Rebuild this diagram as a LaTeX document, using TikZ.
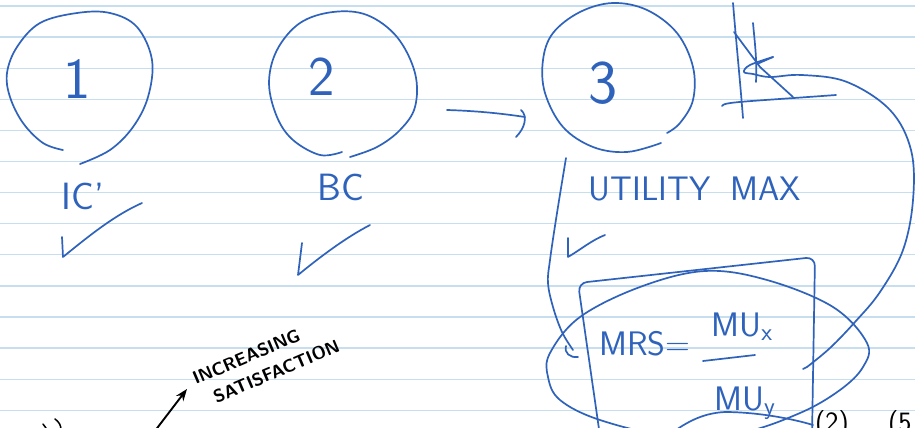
\documentclass[tikz,border=0pt]{standalone}
\usetikzlibrary{arrows.meta}
\definecolor{pen}{RGB}{47,99,187}
\definecolor{paperrule}{RGB}{198,222,238}
\begin{document}
\begin{tikzpicture}[x=1pt,y=-1pt,
  stroke/.style={draw=pen,line width=1.7pt,line cap=round,line join=round},
  ink/.style={draw=black,line width=1.9pt,line cap=round,line join=round},
  handtext/.style={text=pen,inner sep=0pt},
  blacktext/.style={text=black,inner sep=0pt}]
\useasboundingbox (0,0) rectangle (915,428);
\clip (0,0) rectangle (915,428);
\fill[white] (0,0) rectangle (915,428);
% ruled paper
\foreach \k in {0,...,13} \draw[paperrule,line width=1.3pt] (0,{6+31.1*\k}) -- (915,{6+31.1*\k});

% circle 1
\draw[stroke] plot[smooth,tension=0.6] coordinates {(63,150) (43,143) (23,123) (10,97) (7,73) (17,47) (40,23) (77,13) (110,13) (137,27) (152,60) (148,97) (133,127) (110,150) (80,164)};
\node[handtext,font=\sffamily\fontsize{58}{58}\selectfont] (one) at (77,79) {1};
% circle 2
\draw[stroke] plot[smooth,tension=0.6] coordinates {(342,152) (320,155) (293,140) (277,117) (269,83) (277,50) (300,23) (333,12) (367,15) (397,37) (415,73) (415,107) (400,130) (377,147) (350,157)};
\node[handtext,font=\sffamily\fontsize{56}{56}\selectfont] (two) at (322,77) {2};
% circle 3
\draw[stroke] plot[smooth,tension=0.6] coordinates {(661,143) (627,152) (593,147) (563,127) (545,93) (543,60) (553,33) (580,12) (613,3) (647,10) (677,33) (693,67) (693,100) (680,123) (667,133)};
\node[handtext,font=\sffamily\fontsize{62}{62}\selectfont] (three) at (603,83) {3};

% arrow from 2 to 3
\coordinate (a2s) at (447,110);
\coordinate (a2e) at (525,117);
\draw[stroke] (a2s) .. controls (480,111) and (505,114) .. (a2e);
\draw[stroke] (521,110) .. controls (528,116) and (525,128) .. (516,137);

% labels
\node[handtext,font=\sffamily\fontsize{38}{38}\selectfont] (ic) at (83,196) {IC'};
\node[handtext,font=\sffamily\fontsize{38}{38}\selectfont] (bc) at (341,187) {BC};
\node[handtext,font=\sffamily\fontsize{34}{34}\selectfont] (um) at (695,189) {UTILITY\hspace{20pt}MAX};

% check marks
\draw[stroke] (62,237) -- (63,257) .. controls (90,235) and (115,215) .. (142,203);
\draw[stroke] (302,243) -- (298,275) .. controls (320,257) and (345,238) .. (370,225);
\draw[stroke] (568,238) -- (568,257) .. controls (580,250) and (592,240) .. (605,235);

% small graph
\draw[stroke] (733,3) .. controls (736,40) and (740,80) .. (743,118);
\draw[stroke] (722,106) .. controls (724,102) and (740,102) .. (836,95);
\draw[stroke] (734,32) -- (760,67) -- (793,97);
\draw[stroke] (753,23) .. controls (755,45) and (757,60) .. (756,82);
\draw[stroke] (773,57) -- (757,64);
% indifference curve / arrow to MRS box
\draw[stroke] plot[smooth,tension=0.6] coordinates {(773,57) (750,65) (744,72) (753,74) (770,77) (802,75) (847,82) (890,110) (911,150) (913,200) (903,250) (880,292) (855,322) (830,348) (807,367)};
\draw[stroke] (807,367) -- (803,369);

% arrow from circle 3 down to MRS
\draw[stroke] plot[smooth,tension=0.6] coordinates {(566,158) (557,213) (550,260) (548,283) (553,307) (562,332) (573,350)};
\draw[stroke] (566,346) .. controls (564,353) and (570,358) .. (578,357);

% box
\draw[stroke,rounded corners=9pt] (600,436) -- (578,283) -- (815,257) -- (812,436);
% ellipse
\draw[stroke] plot[smooth cycle,tension=0.6] coordinates {(705,271) (767,280) (833,307) (867,343) (863,367) (840,390) (800,413) (740,433) (670,436) (600,420) (560,400) (548,377) (550,353) (580,317) (640,287)};
\draw[stroke] (673,432) .. controls (690,420) and (705,413) .. (725,412) .. controls (755,412) and (790,418) .. (813,425);

% MRS formula
\node[handtext,font=\sffamily\fontsize{34}{34}\selectfont] (mrs) at (645,344) {MRS=};
\node[handtext,font=\sffamily\fontsize{34}{34}\selectfont] (mux) at (742,327) {MU$_{\mathsf{x}}$};
\node[handtext,font=\sffamily\fontsize{34}{34}\selectfont] (muy) at (745,403) {MU$_{\mathsf{y}}$};
\draw[stroke] (703,361) -- (755,355);

% increasing satisfaction
\node[blacktext,rotate=23,align=left,font=\sffamily\bfseries\fontsize{18}{25}\selectfont] (incsat) at (266,362) {INCREASING\\\hspace{12pt}SATISFACTION};
\coordinate (arrs) at (148,440);
\coordinate (arre) at (187,389);
\draw[ink,-{Stealth[length=12pt,width=9pt]}] (arrs) -- (arre);

% cut-off marks at bottom
\draw[ink,line width=1.5pt] (43,424) -- (46,428);
\draw[ink,line width=1.5pt] (55,419) .. controls (59,422) and (61,425) .. (61,430);
\node[blacktext,anchor=north west,font=\sffamily\fontsize{28}{28}\selectfont] (p2) at (815,410) {(2)};
\node[blacktext,anchor=north west,font=\sffamily\fontsize{28}{28}\selectfont] (p5) at (888,410) {(5};
\end{tikzpicture}
\end{document}
